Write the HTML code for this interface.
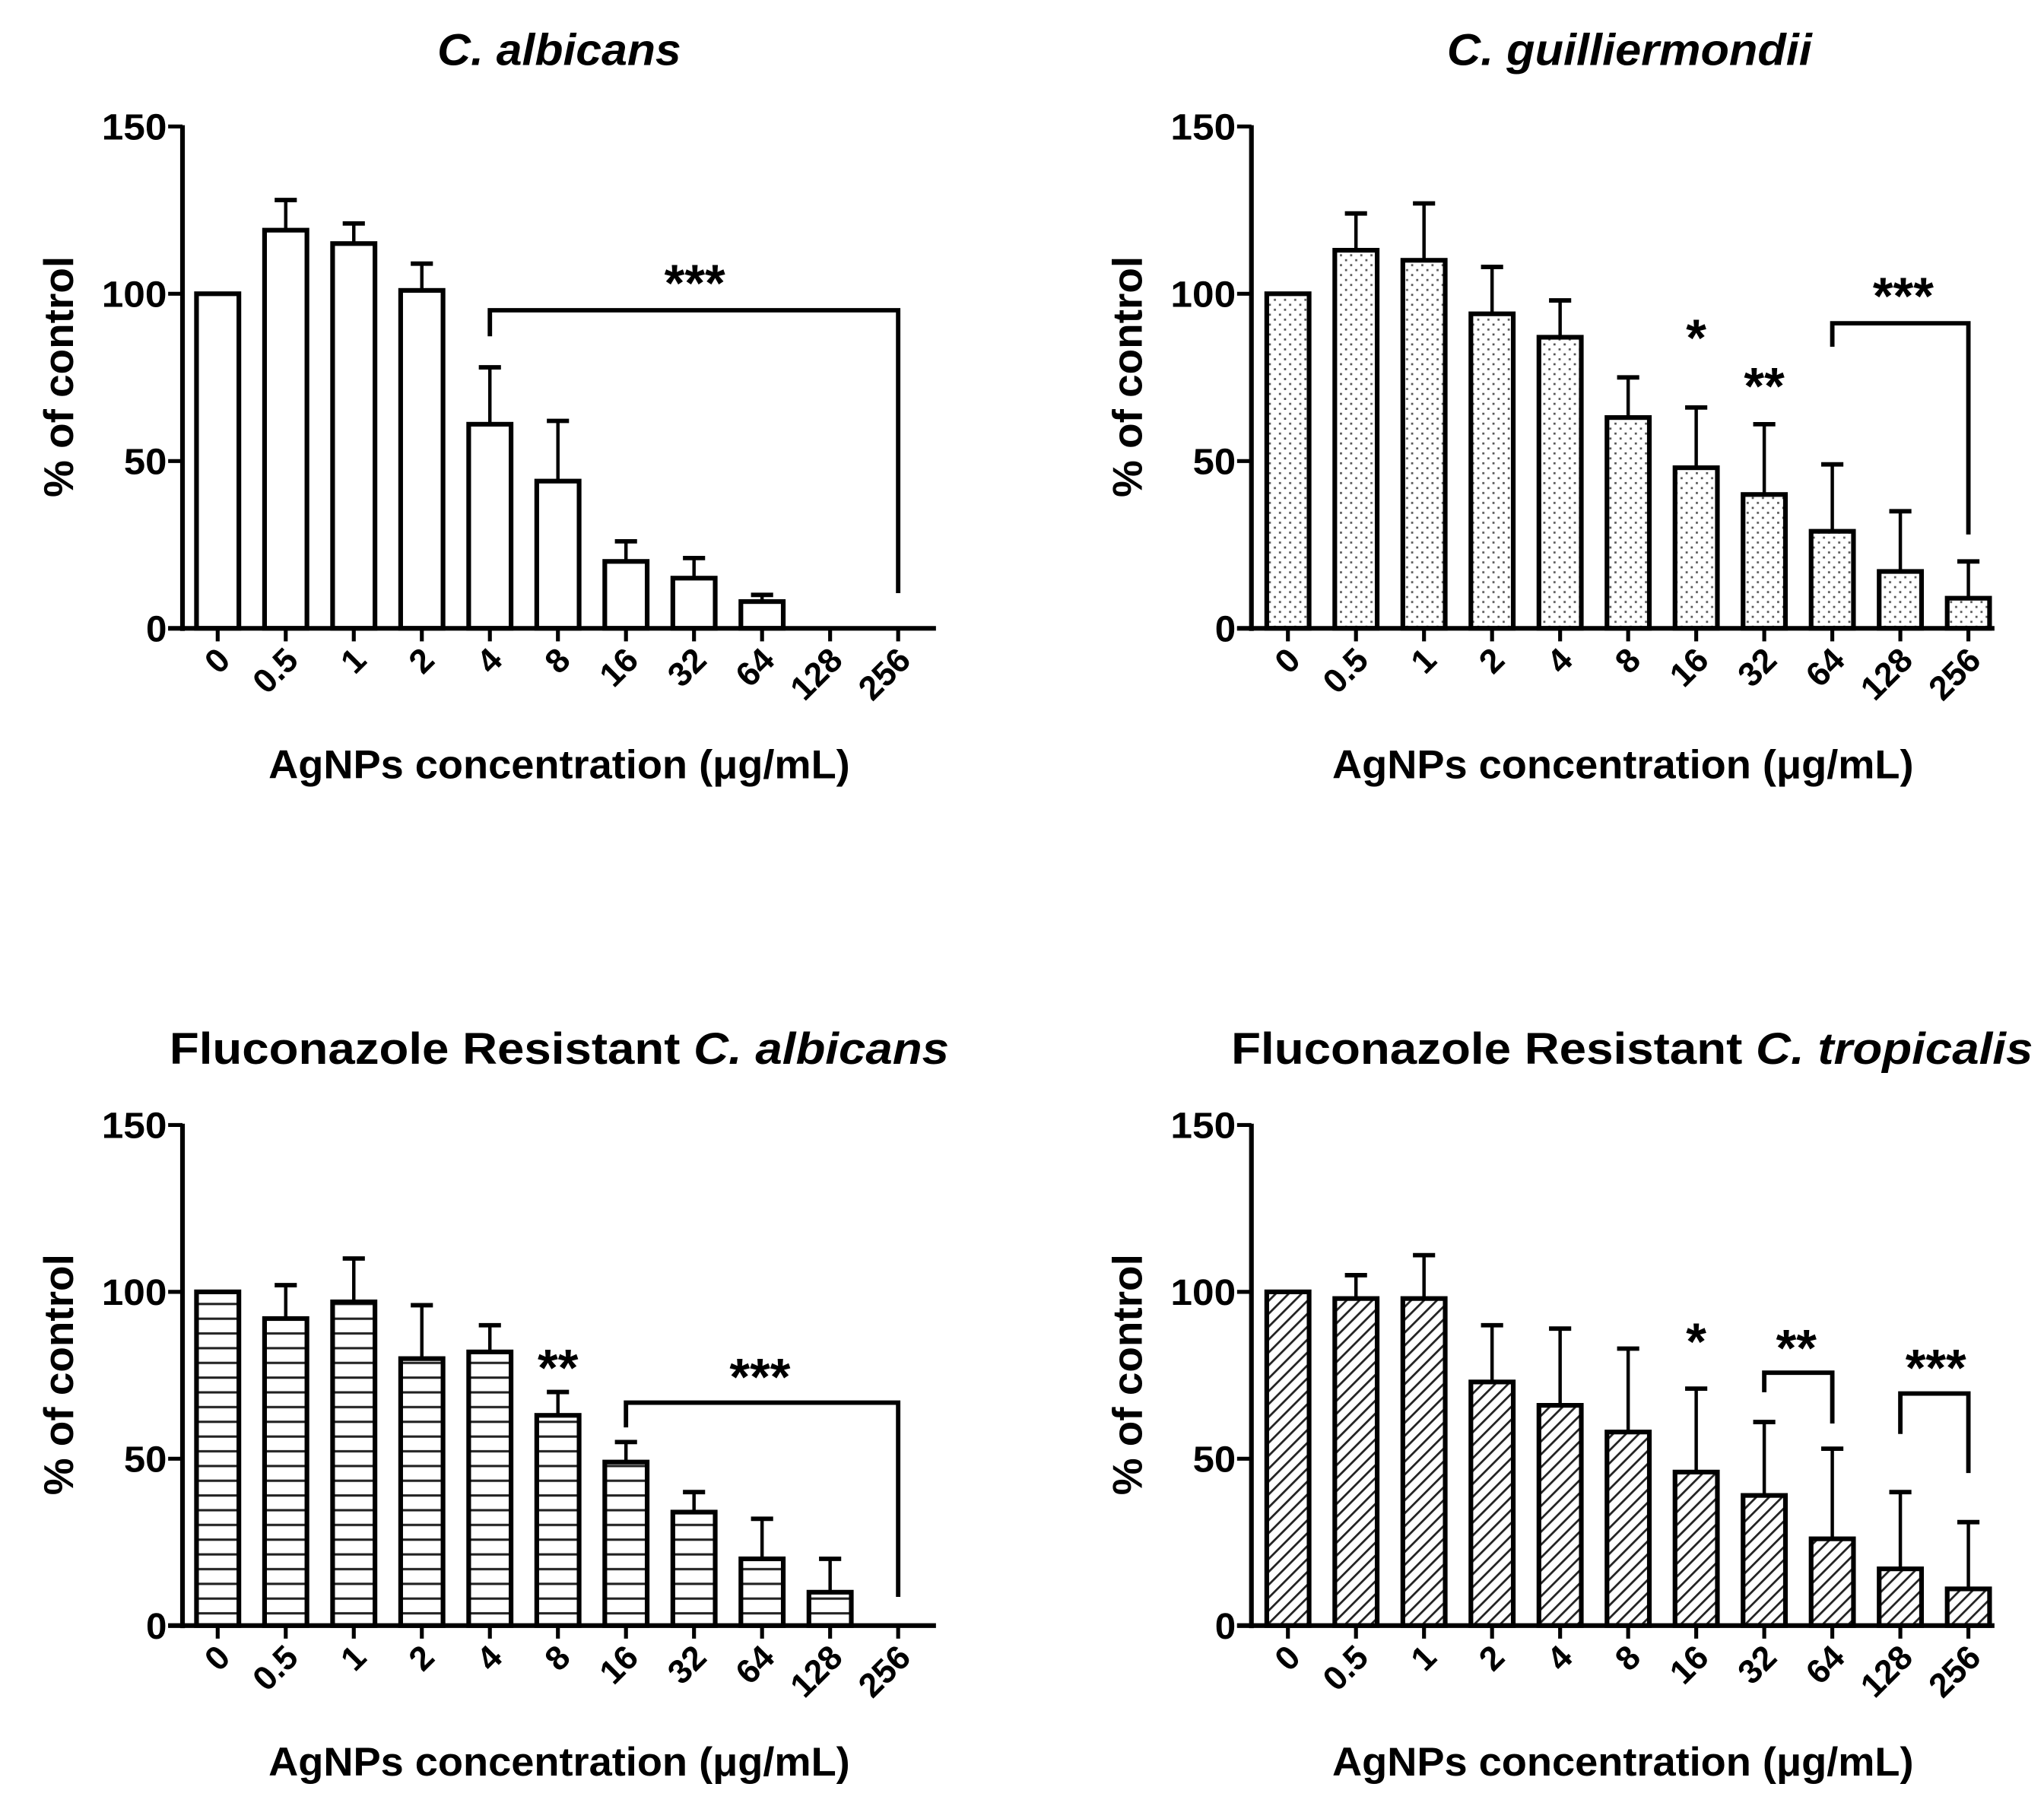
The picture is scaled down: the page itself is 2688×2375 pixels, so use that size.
<!DOCTYPE html>
<html><head><meta charset="utf-8">
<style>
html,body{margin:0;padding:0;background:#fff;}
svg{display:block;}
text{font-family:"Liberation Sans",Arial,sans-serif;font-weight:bold;fill:#000;}
</style></head>
<body>
<svg id="fig" width="2688" height="2375" viewBox="0 0 1568 1385.4" preserveAspectRatio="none" xmlns="http://www.w3.org/2000/svg">
<defs>
<pattern id="dots" patternUnits="userSpaceOnUse" width="7.8" height="7.6">
<rect x="2.2" y="1.2" width="1.6" height="1.6" fill="#555"/>
<rect x="6.1" y="5" width="1.6" height="1.6" fill="#555"/>
</pattern>
<pattern id="hlines" patternUnits="userSpaceOnUse" width="10" height="11.3">
<rect x="0" y="5" width="10" height="1.8" fill="#222"/>
</pattern>
<pattern id="diag" patternUnits="userSpaceOnUse" width="7" height="7" patternTransform="rotate(45)">
<rect x="0" y="0" width="1.6" height="7" fill="#222"/>
</pattern>
</defs>
</svg>
<script>
const categories = ["0","0.5","1","2","4","8","16","32","64","128","256"];
const yTicks = [0,50,100,150];
const valsA = [100,119,115,101,61,44,20,15,8,0,0];
const errA  = [0,9,6,8,17,18,6,6,2,0,0];
const valsB = [100,113,110,94,87,63,48,40,29,17,9];
const errB  = [0,11,17,14,11,12,18,21,20,18,11];
const valsC = [100,92,97,80,82,63,49,34,20,10,0];
const errC  = [0,10,13,16,8,7,6,6,12,10,0];
const valsD = [100,98,98,73,66,58,46,39,26,17,11];
const errD  = [0,7,13,17,23,25,25,22,27,23,20];

const svg = document.getElementById('fig');
const NS = "http://www.w3.org/2000/svg";
function el(tag, attrs, parent){
  const e = document.createElementNS(NS, tag);
  for (const k in attrs) e.setAttribute(k, attrs[k]);
  (parent||svg).appendChild(e);
  return e;
}

const panels = [
  {key:'albicans', ax:140, y0:482, y150:97, xEnd:718, x0:167, dx:52.2, fill:'#fff', vals:valsA, err:errA,
   title:[['','C. albicans',true]], titleX:429, titleY:50, titleLen:187,
   stars:[], brackets:[{from:4,to:10,y:238,ly:258,ry:455,label:'***',lx:533,lyl:213}]},
  {key:'guilliermondii', ax:960, y0:482, y150:97, xEnd:1530, x0:988, dx:52.2, fill:'url(#dots)', vals:valsB, err:errB,
   title:[['','C. guilliermondii',true]], titleX:1250, titleY:50, titleLen:280,
   stars:[{i:6,y:255,t:'*'},{i:7,y:292,t:'**'}], brackets:[{from:8,to:10,y:248,ly:266,ry:410,label:'***',lx:1460,lyl:223}]},
  {key:'fr-albicans', ax:140, y0:1247, y150:863, xEnd:718, x0:167, dx:52.2, fill:'url(#hlines)', vals:valsC, err:errC,
   title:[['Fluconazole Resistant ',' ',false],['','C. albicans',true]], titleX:429, titleY:816, titleLen:598,
   stars:[{i:5,y:1045,t:'**'}], brackets:[{from:6,to:10,y:1076,ly:1095,ry:1225,label:'***',lx:583,lyl:1052}]},
  {key:'fr-tropicalis', ax:960, y0:1247, y150:863, xEnd:1530, x0:988, dx:52.2, fill:'url(#diag)', vals:valsD, err:errD,
   title:[['Fluconazole Resistant ',' ',false],['','C. tropicalis',true]], titleX:1252, titleY:816, titleLen:615,
   stars:[{i:6,y:1025,t:'*'}], brackets:[{from:7,to:8,y:1053,ly:1068,ry:1092,label:'**',lx:1378,lyl:1030},{from:9,to:10,y:1069,ly:1100,ry:1130,label:'***',lx:1485,lyl:1045}]}
];

panels.forEach(p=>{
  const g = el('g',{});
  
  
  const yS = v => p.y0 - (p.y0 - p.y150) * v / 150;
  const xS = i => p.x0 + p.dx * i;
  const t = el('text',{x:p.titleX - p.titleLen/2, y:p.titleY, 'font-size':34, textLength:p.titleLen, lengthAdjust:'spacingAndGlyphs'}, g);
  
  
  p.title.forEach(part=>{
    const ts = el('tspan', part[2]?{'font-style':'italic'}:{}, t);
    ts.textContent = part[2] ? part[1] : part[0];
  });
  p.vals.forEach((v,i)=>{
    const x = xS(i), w = 32.5;
    if (v > 0){
      const r = el('rect',{x:x-w/2, y:yS(v), width:w, height:p.y0-yS(v), fill:p.fill, stroke:'#000','stroke-width':3.6}, g);
      
      
    }
    if (p.err[i] > 0){
      const top = yS(v + p.err[i]);
      const e1 = el('line',{x1:x, x2:x, y1:yS(v)-1.5, y2:top, stroke:'#000','stroke-width':2.6}, g);
      
      
      el('line',{x1:x-8.5, x2:x+8.5, y1:top, y2:top, stroke:'#000','stroke-width':3.4}, g);
    }
    el('line',{x1:x, x2:x, y1:p.y0, y2:p.y0+10, stroke:'#000','stroke-width':3}, g);
    const lb = el('text',{x:0, y:0, 'text-anchor':'end', 'font-size':26, transform:`translate(${x+11},${p.y0+26}) rotate(-45)`}, g);
    
    
    lb.textContent = categories[i];
  });
  const ya = el('line',{x1:p.ax, x2:p.ax, y1:p.y150-1, y2:p.y0+2, stroke:'#000','stroke-width':3.6}, g);
  
  
  const xa = el('line',{x1:p.ax-11, x2:p.xEnd, y1:p.y0, y2:p.y0, stroke:'#000','stroke-width':3.6}, g);
  
  
  yTicks.forEach(v=>{
    el('line',{x1:p.ax-11, x2:p.ax, y1:yS(v), y2:yS(v), stroke:'#000','stroke-width':3}, g);
    const tl = el('text',{x:p.ax-12, y:yS(v)+10, 'text-anchor':'end', 'font-size':28, textLength:v===0?16:(v===50?33:50), lengthAdjust:'spacingAndGlyphs'}, g);
    
    
    tl.textContent = v;
  });
  const yt = el('text',{x:-92,y:0,'font-size':32, textLength:185, lengthAdjust:'spacingAndGlyphs', transform:`translate(${p.ax-84},${(p.y0+p.y150)/2}) rotate(-90)`}, g);
  
  
  yt.textContent = '% of control';
  const cx = (p.ax+p.xEnd)/2 + 0;
  const xt = el('text',{x:cx-223, y:p.y0+115, 'font-size':31, textLength:446, lengthAdjust:'spacingAndGlyphs'}, g);
  
  
  xt.textContent = 'AgNPs concentration (\u03BCg/mL)';
  p.stars.forEach(s=>{
    const st = el('text',{x:xS(s.i), y:s.y+18, 'text-anchor':'middle','font-size':40}, g);
    
    
    st.textContent = s.t;
  });
  p.brackets.forEach(b=>{
    const x1 = xS(b.from), x2 = xS(b.to);
    const br = el('path',{d:`M${x1},${b.ly} L${x1},${b.y} L${x2},${b.y} L${x2},${b.ry}`, fill:'none', stroke:'#000','stroke-width':3.4}, g);
    
    
    const bl = el('text',{x:b.lx, y:b.lyl+18, 'text-anchor':'middle','font-size':40}, g);
    
    
    bl.textContent = b.label;
  });
});
</script>
</body></html>
